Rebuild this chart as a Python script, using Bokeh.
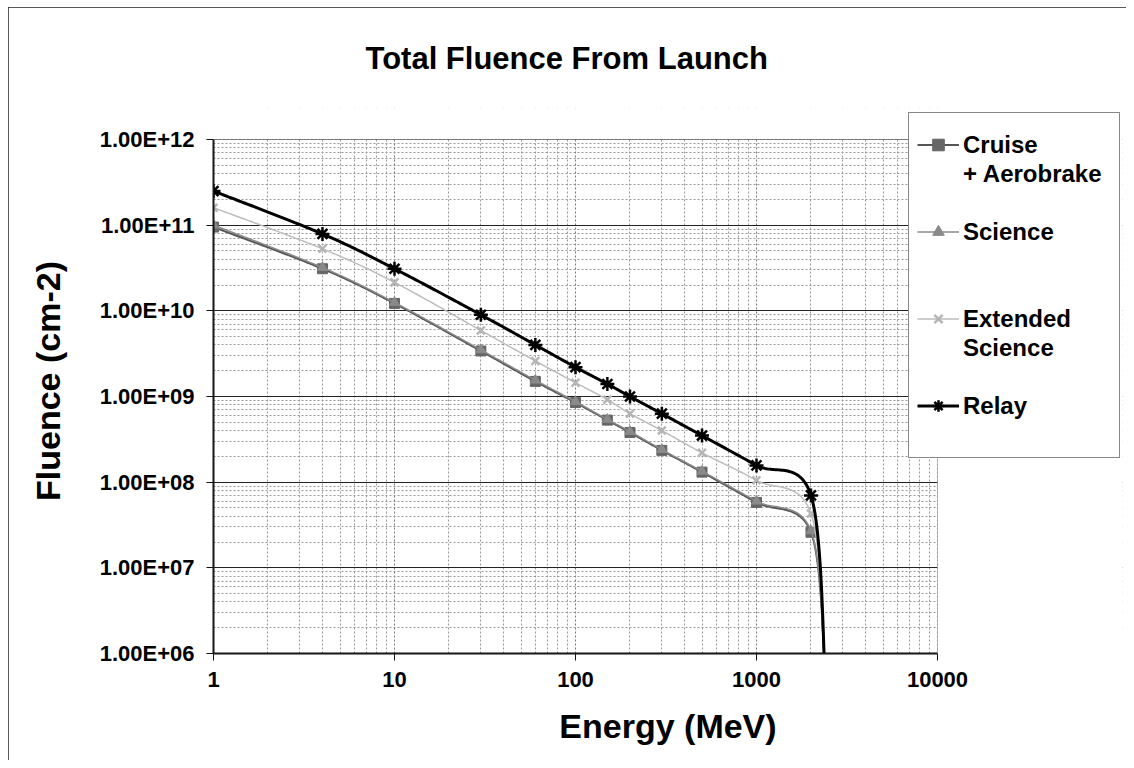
import numpy as np
from bokeh.plotting import figure
from bokeh.models import (Range1d, FixedTicker, CustomJSTickFormatter, Legend, LegendItem,
                          BoxAnnotation)
from bokeh.embed import file_html
from bokeh.resources import INLINE

# ---------------- data ----------------
energy = [1, 4, 10, 30, 60, 100, 150, 200, 300, 500, 1000, 2000, 2400]
cruise = [9.5e10, 3.1e10, 1.22e10, 3.4e9, 1.5e9, 8.5e8, 5.3e8, 3.8e8, 2.35e8, 1.31e8, 5.8e7, 2.6e7, 5e5]
science = [1.0e11, 3.2e10, 1.25e10, 3.5e9, 1.55e9, 8.7e8, 5.4e8, 3.9e8, 2.4e8, 1.34e8, 6.0e7, 2.7e7, 5e5]
extended = [1.6e11, 5.3e10, 2.15e10, 5.9e9, 2.6e9, 1.45e9, 9.2e8, 6.3e8, 4.0e8, 2.2e8, 1.05e8, 4.3e7, 5e5]
relay = [2.5e11, 7.9e10, 3.1e10, 9.0e9, 4.0e9, 2.2e9, 1.4e9, 1.0e9, 6.3e8, 3.5e8, 1.57e8, 7.0e7, 5e5]

series_names = [["Cruise", "+ Aerobrake"], ["Science"], ["Extended", "Science"], ["Relay"]]

x_ticks = [1, 10, 100, 1000, 10000]
x_tick_labels = ["1", "10", "100", "1000", "10000"]
y_ticks = [1e6, 1e7, 1e8, 1e9, 1e10, 1e11, 1e12]
y_tick_labels = ["1.00E+06", "1.00E+07", "1.00E+08", "1.00E+09", "1.00E+10", "1.00E+11", "1.00E+12"]

title_text = "Total Fluence From Launch"
x_title = "Energy (MeV)"
y_title = "Fluence (cm-2)"

# ---------------- layout constants (pixels) ----------------
W, H = 1118, 753              # canvas, placed at page (8, 7)
OX, OY = 8, 7
PLOT_L, PLOT_R, PLOT_T, PLOT_B = 213, 937, 139, 653   # visible plot area (page px)
FRAME_R, FRAME_T = 1122, 108                          # frame extended to host the legend
XPD = (PLOT_R - PLOT_L) / (np.log10(x_ticks[-1]) - np.log10(x_ticks[0]))
YPD = (PLOT_B - PLOT_T) / (np.log10(y_ticks[-1]) - np.log10(y_ticks[0]))
x_end = x_ticks[-1] * 10 ** ((FRAME_R - PLOT_R) / XPD)
y_end = y_ticks[-1] * 10 ** ((PLOT_T - FRAME_T) / YPD)


def smooth(xs, ys, n=40):
    """Excel-like smoothed line (Bezier through the points, in log-log space)."""
    P = np.column_stack([np.log10(xs), np.log10(ys)])
    out = [P[0]]
    t = np.linspace(0, 1, n + 1)[1:, None]
    for i in range(len(P) - 1):
        p0 = P[i - 1] if i > 0 else P[i]
        p1, p2 = P[i], P[i + 1]
        p3 = P[i + 2] if i + 2 < len(P) else P[i + 1]
        c1 = p1 + (p2 - p0) / 6.0
        c2 = p2 - (p3 - p1) / 6.0
        seg = (1 - t) ** 3 * p1 + 3 * (1 - t) ** 2 * t * c1 + 3 * (1 - t) * t ** 2 * c2 + t ** 3 * p2
        out.extend(seg)
    out = np.array(out)
    return list(10 ** out[:, 0]), list(10 ** out[:, 1])


FONT = "Liberation Sans"

p = figure(width=W, height=H, x_axis_type="log", y_axis_type="log",
           x_range=Range1d(x_ticks[0], x_end), y_range=Range1d(y_ticks[0], y_end),
           output_backend="svg", toolbar_location=None,
           min_border_left=PLOT_L - OX, min_border_right=W - (FRAME_R - OX),
           min_border_top=FRAME_T - OY, min_border_bottom=H - (PLOT_B - OY),
           background_fill_color="white", border_fill_color="white")
p.styles = {"margin-left": "8px", "margin-top": "7px",
            "outline": "1px solid #222", "outline-offset": "-1px"}

p.title.text = title_text
p.title.text_font = FONT
p.title.text_font_size = "31px"
p.title.text_font_style = "bold"
p.title.text_color = "black"
p.title.align = "left"
p.title.offset = 152
p.title.vertical_align = "top"
p.title.standoff = 62

# minor tick positions for the grid
x_minor = [m * d for d in x_ticks[:-1] for m in range(2, 10)]
y_minor = [m * d for d in y_ticks[:-1] for m in range(2, 10)]
p.xaxis.ticker = FixedTicker(ticks=x_ticks, minor_ticks=x_minor)
p.yaxis.ticker = FixedTicker(ticks=y_ticks, minor_ticks=y_minor)
p.xaxis.bounds = (x_ticks[0], x_ticks[-1])
p.yaxis.bounds = (y_ticks[0], y_ticks[-1])

fmt_code = """
const i = vals.findIndex(v => Math.abs(Math.log10(v) - Math.log10(tick)) < 1e-6);
return i >= 0 ? labs[i] : '';
"""
p.xaxis.formatter = CustomJSTickFormatter(args=dict(vals=x_ticks, labs=x_tick_labels), code=fmt_code)
p.yaxis.formatter = CustomJSTickFormatter(args=dict(vals=y_ticks, labs=y_tick_labels), code=fmt_code)

for ax in (p.xaxis[0], p.yaxis[0]):
    ax.major_label_text_font = FONT
    ax.major_label_text_font_size = "22px"
    ax.major_label_text_font_style = "bold"
    ax.major_label_text_color = "black"
    ax.axis_label_text_font = FONT
    ax.axis_label_text_font_size = "34px"
    ax.axis_label_text_font_style = "bold"
    ax.axis_label_text_color = "black"
    ax.axis_line_color = "#111"
    ax.axis_line_width = 2
    ax.major_tick_line_color = "#111"
    ax.major_tick_out = 7
    ax.major_tick_in = 0
    ax.minor_tick_line_color = None

p.xaxis.axis_label = x_title
p.yaxis.axis_label = y_title
p.xaxis.major_label_standoff = 11
p.xaxis.axis_label_standoff = 17
p.yaxis.major_label_standoff = 12
p.yaxis.axis_label_standoff = 30

p.xgrid.grid_line_color = "#777"
p.xgrid.grid_line_dash = "2 2"
p.xgrid.minor_grid_line_color = "#999"
p.xgrid.minor_grid_line_dash = "2 2"
p.ygrid.grid_line_color = "#222"
p.ygrid.grid_line_width = 1
p.ygrid.minor_grid_line_color = "#999"
p.ygrid.minor_grid_line_dash = "2 2"
p.outline_line_color = None

styles = [
    dict(vals=cruise, color="#555555", lw=2, marker="square", size=10, mcolor="#666666"),
    dict(vals=science, color="#8a8a8a", lw=1.5, marker="triangle", size=10, mcolor="#8a8a8a"),
    dict(vals=extended, color="#bdbdbd", lw=1.5, marker="x", size=11, mcolor="#b5b5b5"),
    dict(vals=relay, color="#000000", lw=3, marker="asterisk", size=14, mcolor="#000000"),
]

renderers = []
for st in styles:
    sx, sy = smooth(energy, st["vals"])
    ln = p.line(sx, sy, line_color=st["color"], line_width=st["lw"])
    mk = p.scatter(energy, st["vals"], marker=st["marker"], size=st["size"],
                   fill_color=st["mcolor"], line_color=st["mcolor"],
                   line_width=2.5 if st["marker"] in ("asterisk", "x") else 1)
    renderers.append([ln, mk])

# white masks outside the visible plot area (frame extends under the legend)
p.add_layout(BoxAnnotation(left=x_ticks[-1], fill_color="white", fill_alpha=1, line_alpha=0))
p.add_layout(BoxAnnotation(bottom=y_ticks[-1], fill_color="white", fill_alpha=1, line_alpha=0))
p.add_layout(BoxAnnotation(left=x_ticks[0], right=x_ticks[-1], bottom=y_ticks[0], top=y_ticks[-1],
                           fill_alpha=0, line_color="#444", line_width=1))

# legend: single-line items, blank rows reproduce Excel's spacing
blank = p.line(x=[], y=[], line_alpha=0)
rows = [(series_names[0][0], renderers[0]), (series_names[0][1], [blank]), (" ", [blank]),
        (series_names[1][0], renderers[1]), (" ", [blank]), (" ", [blank]),
        (series_names[2][0], renderers[2]), (series_names[2][1], [blank]), (" ", [blank]),
        (series_names[3][0], renderers[3]), (" ", [blank])]
items = [LegendItem(label=lab, renderers=r) for lab, r in rows]

legend = Legend(items=items, location=(908 - PLOT_L, PLOT_B - 458))
legend.title = " "
legend.title_text_font_size = "8px"
legend.title_standoff = 0
legend.label_text_font = FONT
legend.label_text_font_size = "24px"
legend.label_text_font_style = "bold"
legend.label_text_color = "black"
legend.glyph_width = 42
legend.glyph_height = 29
legend.label_height = 29
legend.label_standoff = 4
legend.label_width = 148
legend.padding = 8
legend.spacing = 0
legend.margin = 0
legend.border_line_color = "#111"
legend.border_line_width = 1
legend.background_fill_color = "white"
legend.background_fill_alpha = 1
p.add_layout(legend, "center")

open("out.html", "w").write(file_html(p, INLINE))
